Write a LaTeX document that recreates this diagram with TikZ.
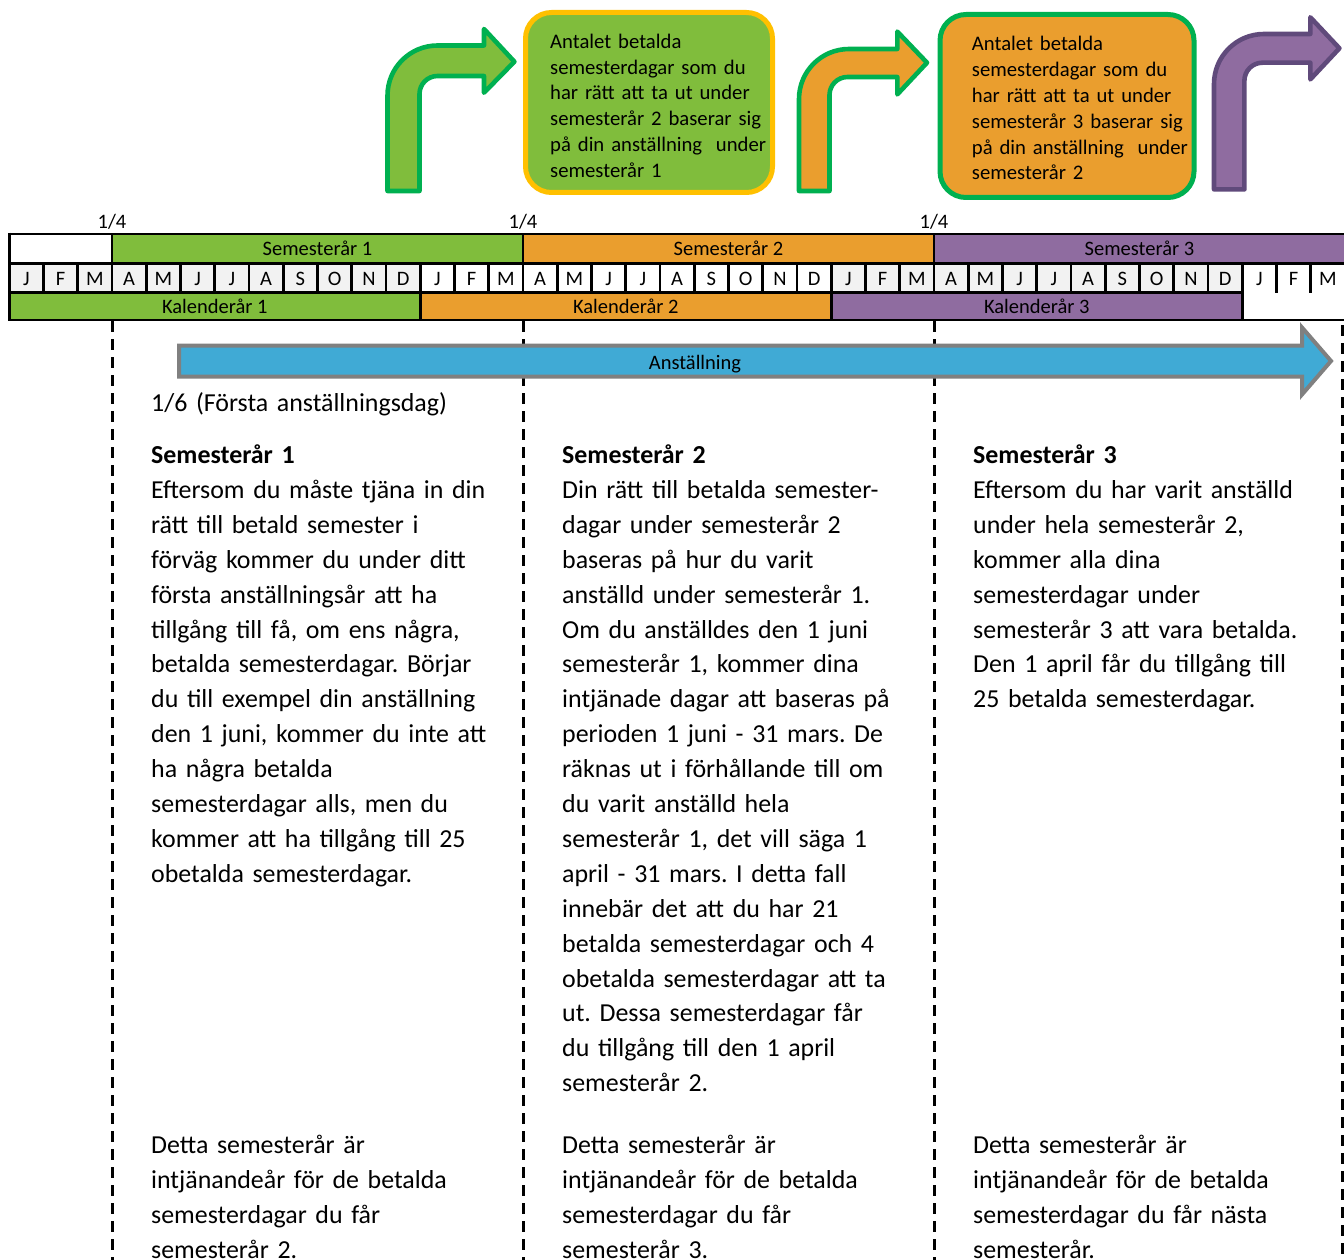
\documentclass[tikz,border=0pt]{standalone}
\usepackage{fontspec}
\setmainfont{Carlito}
\frenchspacing
\definecolor{sgreen}{RGB}{128,189,60}
\definecolor{sorange}{RGB}{234,158,46}
\definecolor{spurple}{RGB}{143,108,160}
\definecolor{dpurple}{RGB}{96,74,123}
\definecolor{ogreen}{RGB}{0,176,80}
\definecolor{gold}{RGB}{255,192,0}
\definecolor{sblue}{RGB}{64,170,213}
\definecolor{lgrey}{RGB}{242,242,242}
\definecolor{agrey}{RGB}{128,128,128}
\newcommand\bentpath[9]{(#1,#3) -- (#1,#4+50) arc[start angle=180,end angle=270,radius=50] -- (#6,#4) -- (#6,#7) -- (#9) -- (#6,#8) -- (#6,#5) -- (#2+18,#5) arc[start angle=270,end angle=180,radius=18] -- (#2,#3) -- cycle}
\begin{document}
\begin{tikzpicture}[x=1pt,y=-1pt,line join=round,
  tbl/.style={line width=2.7pt},
  ttxt/.style={font=\fontsize{20.5}{24}\selectfont,inner sep=0pt,anchor=base},
  bodytxt/.style={font=\fontsize{25.9}{34.9}\selectfont\frenchspacing,inner sep=0pt,anchor=base west,align=left,text width=420pt},
  boxtxt/.style={font=\fontsize{20.7}{25.8}\selectfont\frenchspacing,inner sep=0pt,anchor=base west,align=left,text width=240pt},
  infobox/.style={rounded corners=26pt,line width=5pt,inner sep=0pt},
  bent/.style={line width=4.6pt},
  divider/.style={line width=3pt,dash pattern=on 11pt off 7pt}]
\useasboundingbox (0,0) rectangle (1344,1260);
\def\xo{9.25}
\def\w{34.25}
% ---- top bent arrows and boxes
\draw[bent,fill=sgreen,draw=ogreen] \bentpath{387.5}{419.5}{191}{45.5}{76}{484}{29}{92.7}{514.4,61.7};
\draw[bent,fill=sorange,draw=ogreen] \bentpath{799}{829.5}{191}{49}{77}{897.3}{31.6}{94.4}{927,62.7};
\draw[bent,fill=spurple,draw=dpurple] \bentpath{1214}{1244.4}{189.4}{34}{62.7}{1310.3}{17.3}{79.4}{1339.4,48.3};
\node[infobox,draw=gold,fill=sgreen,minimum width=247pt,minimum height=180pt] (box1) at (649,102.5) {};
\node[infobox,draw=ogreen,fill=sorange,minimum width=254pt,minimum height=183pt] (box2) at (1067,106) {};
\node[boxtxt] (box1txt) at (550,48.3) {Antalet betalda\\semesterdagar som du\\har rätt att ta ut under\\semesterår 2 baserar sig\\på din anställning~ under\\semesterår 1};
\node[boxtxt] (box2txt) at (971.7,51) {Antalet betalda\\semesterdagar som du\\har rätt att ta ut under\\semesterår 3 baserar sig\\på din anställning~ under\\semesterår 2};
% ---- table fills
\fill[sgreen] ({\xo+3*\w},234) rectangle ({\xo+15*\w},263.3);
\fill[sorange] ({\xo+15*\w},234) rectangle ({\xo+27*\w},263.3);
\fill[spurple] ({\xo+27*\w},234) rectangle ({\xo+40*\w},263.3);
\fill[lgrey] (\xo,263.3) rectangle ({\xo+12*\w},292.7);
\fill[lgrey] ({\xo+24*\w},263.3) rectangle ({\xo+36*\w},292.7);
\fill[sgreen] (\xo,292.7) rectangle ({\xo+12*\w},320);
\fill[sorange] ({\xo+12*\w},292.7) rectangle ({\xo+24*\w},320);
\fill[spurple] ({\xo+24*\w},292.7) rectangle ({\xo+36*\w},320);
% ---- table lines
\draw[tbl] (\xo,234) -- (1350,234);
\draw[tbl] (\xo,263.3) -- (1350,263.3);
\draw[tbl] (\xo,292.7) -- ({\xo+36*\w},292.7);
\draw[tbl] (\xo,320) -- (1350,320);
\draw[tbl] (\xo,232.65) -- (\xo,321.35);
\foreach \k in {3,15,27} \draw[tbl] ({\xo+\k*\w},234) -- ({\xo+\k*\w},263.3);
\foreach \k in {1,...,38} \draw[tbl] ({\xo+\k*\w},263.3) -- ({\xo+\k*\w},292.7);
\foreach \k in {12,24,36} \draw[tbl] ({\xo+\k*\w},292.7) -- ({\xo+\k*\w},320);
% ---- table texts
\foreach \m [count=\i from 0] in {J,F,M,A,M,J,J,A,S,O,N,D,J,F,M,A,M,J,J,A,S,O,N,D,J,F,M,A,M,J,J,A,S,O,N,D,J,F,M}
  \node[ttxt] (m\i) at ({\xo+(\i+0.5)*\w},285) {\m};
\node[ttxt] (q1) at ({\xo+3*\w},228.3) {1/4};
\node[ttxt] (q2) at ({\xo+15*\w},228.3) {1/4};
\node[ttxt] (q3) at ({\xo+27*\w},228.3) {1/4};
\node[ttxt] (s1) at ({\xo+9*\w},255) {Semesterår 1};
\node[ttxt] (s2) at ({\xo+21*\w},255) {Semesterår 2};
\node[ttxt] (s3) at ({\xo+33*\w},255) {Semesterår 3};
\node[ttxt] (k1) at ({\xo+6*\w},313.3) {Kalenderår 1};
\node[ttxt] (k2) at ({\xo+18*\w},313.3) {Kalenderår 2};
\node[ttxt] (k3) at ({\xo+30*\w},313.3) {Kalenderår 3};
% ---- dividers
\coordinate (d1t) at ({\xo+3*\w},321);
\coordinate (d1b) at ({\xo+3*\w},1262);
\coordinate (d2t) at ({\xo+15*\w},321);
\coordinate (d2b) at ({\xo+15*\w},1262);
\coordinate (d3t) at ({\xo+27*\w},321);
\coordinate (d3b) at ({\xo+27*\w},1262);
\coordinate (d4t) at (1342,325);
\coordinate (d4b) at (1342,1262);
\draw[divider] (d1t) -- (d1b);
\draw[divider] (d2t) -- (d2b);
\draw[divider] (d3t) -- (d3b);
\draw[divider] (d4t) -- (d4b);
% ---- employment arrow
\draw[line width=4pt,fill=sblue,draw=agrey,line join=miter] (179,345.5) -- (1302,345.5) -- (1302,327.5) -- (1331,361) -- (1302,394.5) -- (1302,376.5) -- (179,376.5) -- cycle;
\node[ttxt] (anst) at (695,369) {Anställning};
% ---- texts
\node[bodytxt] (start) at (151,411.7) {1/6 (Första anställningsdag)};
\node[bodytxt] (c1) at (151,463.5) {\textbf{Semesterår 1}\\Eftersom du måste tjäna in din\\rätt till betald semester i\\förväg kommer du under ditt\\första anställningsår att ha\\tillgång till få, om ens några,\\betalda semesterdagar. Börjar\\du till exempel din anställning\\den 1 juni, kommer du inte att\\ha några betalda\\semesterdagar alls, men du\\kommer att ha tillgång till 25\\obetalda semesterdagar.};
\node[bodytxt] (c2) at (562,463.5) {\textbf{Semesterår 2}\\Din rätt till betalda semester-\\dagar under semesterår 2\\baseras på hur du varit\\anställd under semesterår 1.\\Om du anställdes den 1 juni\\semesterår 1, kommer dina\\intjänade dagar att baseras på\\perioden 1 juni - 31 mars. De\\räknas ut i förhållande till om\\du varit anställd hela\\semesterår 1, det vill säga 1\\april - 31 mars. I detta fall\\innebär det att du har 21\\betalda semesterdagar och 4\\obetalda semesterdagar att ta\\ut. Dessa semesterdagar får\\du tillgång till den 1 april\\semesterår 2.};
\node[bodytxt] (c3) at (973,463.5) {\textbf{Semesterår 3}\\Eftersom du har varit anställd\\under hela semesterår 2,\\kommer alla dina\\semesterdagar under\\semesterår 3 att vara betalda.\\Den 1 april får du tillgång till\\25 betalda semesterdagar.};
\node[bodytxt] (e1) at (151,1153.3) {Detta semesterår är\\intjänandeår för de betalda\\semesterdagar du får\\semesterår 2.};
\node[bodytxt] (e2) at (562,1153.3) {Detta semesterår är\\intjänandeår för de betalda\\semesterdagar du får\\semesterår 3.};
\node[bodytxt] (e3) at (973,1153.3) {Detta semesterår är\\intjänandeår för de betalda\\semesterdagar du får nästa\\semesterår.};
\end{tikzpicture}
\end{document}
